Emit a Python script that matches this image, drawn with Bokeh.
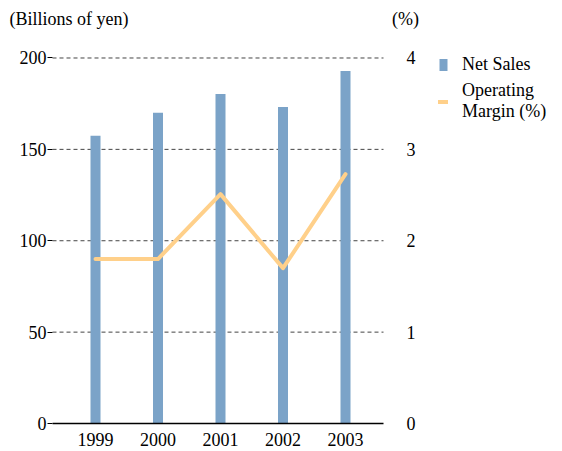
from bokeh.plotting import figure
from bokeh.models import (Range1d, LinearAxis, FixedTicker, Label, Legend, LegendItem)
from bokeh.embed import file_html
from bokeh.resources import INLINE

# ---- data ----
years = [1999, 2000, 2001, 2002, 2003]
year_labels = ["1999", "2000", "2001", "2002", "2003"]
net_sales = [157.4, 170.0, 180.3, 173.2, 192.9]          # billions of yen
operating_margin = [1.80, 1.80, 2.51, 1.70, 2.73]      # %
left_ticks = [0, 50, 100, 150, 200]
right_ticks = [0, 1, 2, 3, 4]
grid_ticks = [50, 100, 150, 200]

BAR = "#7BA3C8"
LINE = "#FFD08A"
SERIF = "Liberation Serif"

# plotting-area extent (in data units) and whole-canvas ranges
X0, X1 = 1998.312, 2003.608
Y0, Y1 = -15.32, 231.46
p = figure(width=560, height=451, output_backend="svg", toolbar_location=None, title=None,
           x_range=Range1d(1997.48, 2006.44), y_range=Range1d(Y0, Y1),
           min_border=0)
p.outline_line_color = None
p.extra_y_ranges = {"pct": Range1d(Y0 / 50, Y1 / 50)}

# dashed horizontal grid lines (drawn from the tick values, limited to the plot area)
p.segment(x0=[X0] * len(grid_ticks), x1=[X1] * len(grid_ticks), y0=grid_ticks, y1=grid_ticks,
          line_color="#444444", line_dash="4 3", line_width=1)

bars = p.vbar(x=years, top=net_sales, width=0.16, color=BAR, line_color=None)
line = p.line(x=years, y=operating_margin, y_range_name="pct",
              line_color=LINE, line_width=4, line_cap="round", line_join="round")

# axes
xa = p.xaxis[0]
xa.fixed_location = 0
xa.bounds = (X0, X1)
xa.ticker = FixedTicker(ticks=years)
xa.major_label_overrides = {y: s for y, s in zip(years, year_labels)}
xa.major_tick_line_color = None
xa.minor_tick_line_color = None
xa.axis_line_color = "black"
xa.axis_line_width = 1.5
xa.major_label_standoff = 3
xa.major_label_text_font = SERIF
xa.major_label_text_font_size = "18px"
xa.major_label_text_color = "black"

ya = p.yaxis[0]
ya.fixed_location = X0
ya.bounds = (0, 200)
ya.ticker = FixedTicker(ticks=left_ticks)
ya.axis_line_color = None
ya.major_tick_in = 0
ya.major_tick_out = 5
ya.major_tick_line_color = "black"
ya.minor_tick_line_color = None
ya.major_label_standoff = 1
ya.major_label_text_font = SERIF
ya.major_label_text_font_size = "18px"
ya.major_label_text_color = "black"

ra = LinearAxis(y_range_name="pct", ticker=FixedTicker(ticks=right_ticks))
ra.fixed_location = X1
ra.bounds = (0, 4)
ra.axis_line_color = None
ra.major_tick_line_color = None
ra.minor_tick_line_color = None
ra.major_label_standoff = 17
ra.major_label_text_font = SERIF
ra.major_label_text_font_size = "18px"
ra.major_label_text_color = "black"
p.add_layout(ra, "right")

p.xgrid.visible = False
p.ygrid.visible = False

# unit labels
p.add_layout(Label(x=1997.624, y=221.1, text="(Billions of yen)", text_align="left",
                   text_baseline="middle", text_font="Liberation Sans Narrow",
                   text_font_size="18px", text_color="black"))
p.add_layout(Label(x=2003.96, y=221.1, text="(%)", text_align="center",
                   text_baseline="middle", text_font=SERIF,
                   text_font_size="18px", text_color="black"))

legend = Legend(items=[LegendItem(label="Net Sales", renderers=[bars]),
                       LegendItem(label="Operating\nMargin (%)", renderers=[line])],
                location=(438, 329), orientation="vertical",
                glyph_width=10, glyph_height=15, label_standoff=14,
                padding=0, margin=0, spacing=5,
                background_fill_alpha=0, border_line_color=None,
                label_text_font=SERIF, label_text_font_size="18px",
                label_text_line_height=1.35,
                label_text_color="black")
p.add_layout(legend, "center")

open("out.html", "w").write(file_html(p, INLINE))
